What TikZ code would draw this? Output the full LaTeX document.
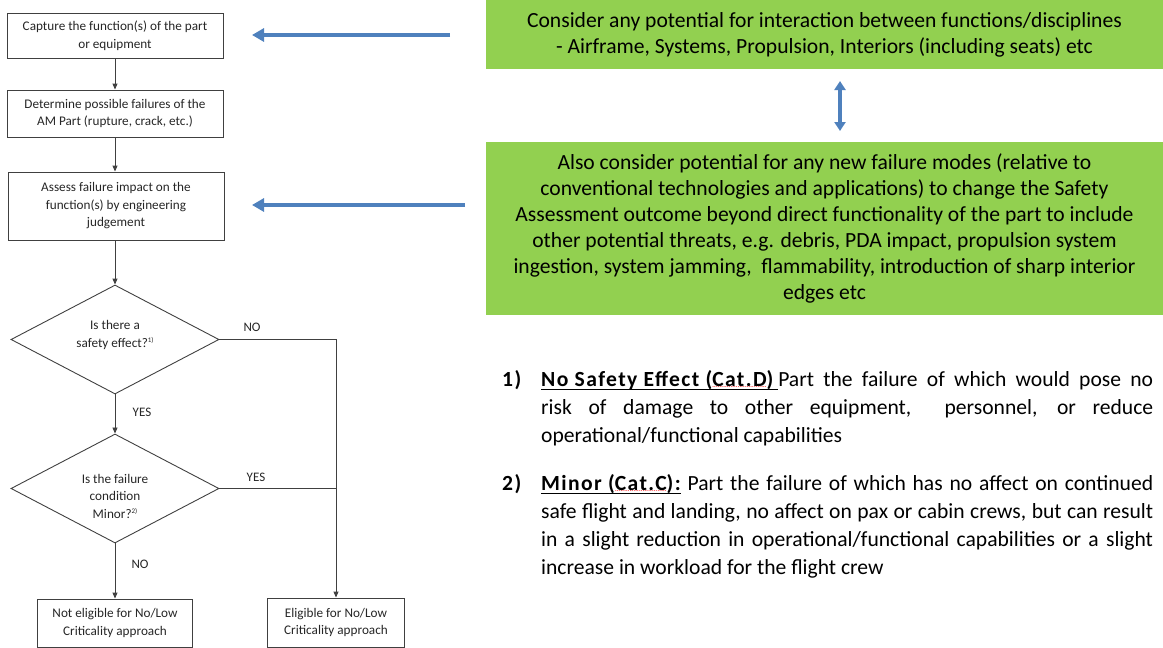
\documentclass[tikz,border=0pt]{standalone}
\usepackage{fontspec}
\setmainfont{Carlito}
\newfontfamily\spacedbold[LetterSpace=6.5,BoldFont={* Bold}]{Carlito}
\usetikzlibrary{arrows.meta,shapes.geometric}
\definecolor{boxgreen}{HTML}{92D050}
\definecolor{arrowblue}{HTML}{4F81BD}
\definecolor{linegray}{HTML}{404040}
\definecolor{txt}{HTML}{262626}
\newsavebox\spellbox
\newsavebox\headbox
\newcommand\smallsup[1]{\raisebox{5pt}{\fontsize{7}{7}\selectfont #1}}
\newcommand\spellmark[1]{\sbox\spellbox{#1}\rlap{\color{red}\raisebox{-1.6pt}{\hbox to\wd\spellbox{\fontsize{6}{6}\selectfont\xleaders\hbox to 1.8pt{\hss.\hss}\hfill}}}\usebox\spellbox}
\newcommand\headul[1]{\sbox\headbox{#1}\rlap{\rule[-3.6pt]{\wd\headbox}{1.3pt}}\usebox\headbox}
\begin{document}
\begin{tikzpicture}[x=1pt,y=-1pt,
  flowbox/.style={draw=linegray, line width=0.9pt, align=center, inner sep=0pt, text=txt, font=\fontsize{13.2}{17.5}\selectfont},
  decision/.style={diamond, draw=linegray, line width=0.9pt, inner sep=0pt},
  dectext/.style={align=center, inner sep=0pt, text=txt, font=\fontsize{13.2}{17.5}\selectfont},
  flowlabel/.style={inner sep=0pt, text=txt, font=\fontsize{13}{15}\selectfont},
  flowarrow/.style={draw=linegray, line width=0.9pt, -{Triangle[length=6pt,width=5pt]}},
  flowline/.style={draw=linegray, line width=0.9pt},
  greenbox/.style={fill=boxgreen, draw=none, align=center, inner sep=0pt, text=black, font=\fontsize{21.6}{26}\selectfont},
  bluearrow/.style={draw=arrowblue, line width=4pt, -{Triangle[length=12pt,width=13pt]}},
  bluedouble/.style={draw=arrowblue, line width=3.5pt, {Triangle[length=9pt,width=11pt]}-{Triangle[length=9pt,width=11pt]}},
  itemnum/.style={anchor=base west, inner sep=0pt, font=\fontsize{21.6}{28}\spacedbold\bfseries},
  itempar/.style={anchor=north west, inner sep=0pt, text width=612pt, align=justify, font=\fontsize{21.6}{28}\selectfont}
]
\useasboundingbox (0,0) rectangle (1163,648);

% left flow chart
\node[flowbox, minimum width=216pt, minimum height=45pt] (box1) at (115,35.5) {Capture the function(s) of the part\\or equipment};
\node[flowbox, minimum width=216pt, minimum height=47pt] (box2) at (115,113.5) {Determine possible failures of the\\AM Part (rupture, crack, etc.)};
\node[flowbox, minimum width=216pt, minimum height=68pt] (box3) at (116,206) {Assess failure impact on the\\function(s) by engineering\\judgement};
\node[decision, minimum width=208pt, minimum height=109pt] (dia1) at (115,339.5) {};
\node[dectext] (dia1t) at (115,335) {Is there a\\safety effect?\smallsup{1)}};
\node[decision, minimum width=208pt, minimum height=109pt] (dia2) at (115,488.5) {};
\node[dectext] (dia2t) at (115,496) {Is the failure\\condition\\Minor?\smallsup{2)}};
\node[flowbox, minimum width=155pt, minimum height=48pt] (box4) at (115,623) {Not eligible for No/Low\\Criticality approach};
\node[flowbox, minimum width=137pt, minimum height=49pt] (box5) at (336,622.5) {Eligible for No/Low\\Criticality approach};

\draw[flowarrow] (box1) -- (box2);
\draw[flowarrow] (box2.south) -- (box3.north -| box2.south);
\draw[flowarrow] (box3.south -| dia1.north) -- (dia1.north);
\draw[flowarrow] (dia1) -- (dia2);
\draw[flowarrow] (dia2) -- (box4);
\draw[flowarrow] (dia1.east) -| (box5.north);
\draw[flowline] (dia2.east) -- (dia2.east -| box5.north);

\node[flowlabel] (lno1) at (252,327) {NO};
\node[flowlabel] (lyes1) at (142,412) {YES};
\node[flowlabel] (lyes2) at (256,477) {YES};
\node[flowlabel] (lno2) at (140,564) {NO};

% green boxes
\node[greenbox, minimum width=677pt, minimum height=69pt] (gA) at (824.5,34.5) {Consider any potential for interaction between functions/disciplines\\- Airframe, Systems, Propulsion, Interiors (including seats) etc};
\node[greenbox, minimum width=677pt, minimum height=173pt] (gB) at (824.5,228.5) {Also consider potential for any new failure modes (relative to\\conventional technologies and applications) to change the Safety\\Assessment outcome beyond direct functionality of the part to include\\other potential threats, e.g. debris, PDA impact, propulsion system\\ingestion, system jamming,\ \ flammability, introduction of sharp interior\\edges etc};

% blue arrows
\coordinate (b1s) at (450,35);
\coordinate (b1e) at (252,35);
\coordinate (b2s) at (465,205);
\coordinate (b2e) at (252,205);
\coordinate (dTop) at (840,81);
\coordinate (dBot) at (840,131);
\draw[bluearrow] (b1s) -- (b1e);
\draw[bluearrow] (b2s) -- (b2e);
\draw[bluedouble] (dTop) -- (dBot);

% notes
\node[itemnum] (n1) at (502,386) {1)};
\node[itempar] (p1) at (541,368) {\rule{0pt}{18pt}\headul{{\spacedbold\bfseries No Safety Effect (\spellmark{Cat.D})}\ }Part the failure of which would pose no\linebreak risk of damage to other equipment,\ \ personnel, or reduce\linebreak operational/functional capabilities};
\node[itemnum] (n2) at (502,490) {2)};
\node[itempar] (p2) at (541,472) {\rule{0pt}{18pt}\headul{{\spacedbold\bfseries Minor (\spellmark{Cat.C}):}}\ Part the failure of which has no affect on continued\linebreak safe flight and landing, no affect on pax or cabin crews, but can result\linebreak in a slight reduction in operational/functional capabilities or a slight\linebreak increase in workload for the flight crew};
\end{tikzpicture}
\end{document}
